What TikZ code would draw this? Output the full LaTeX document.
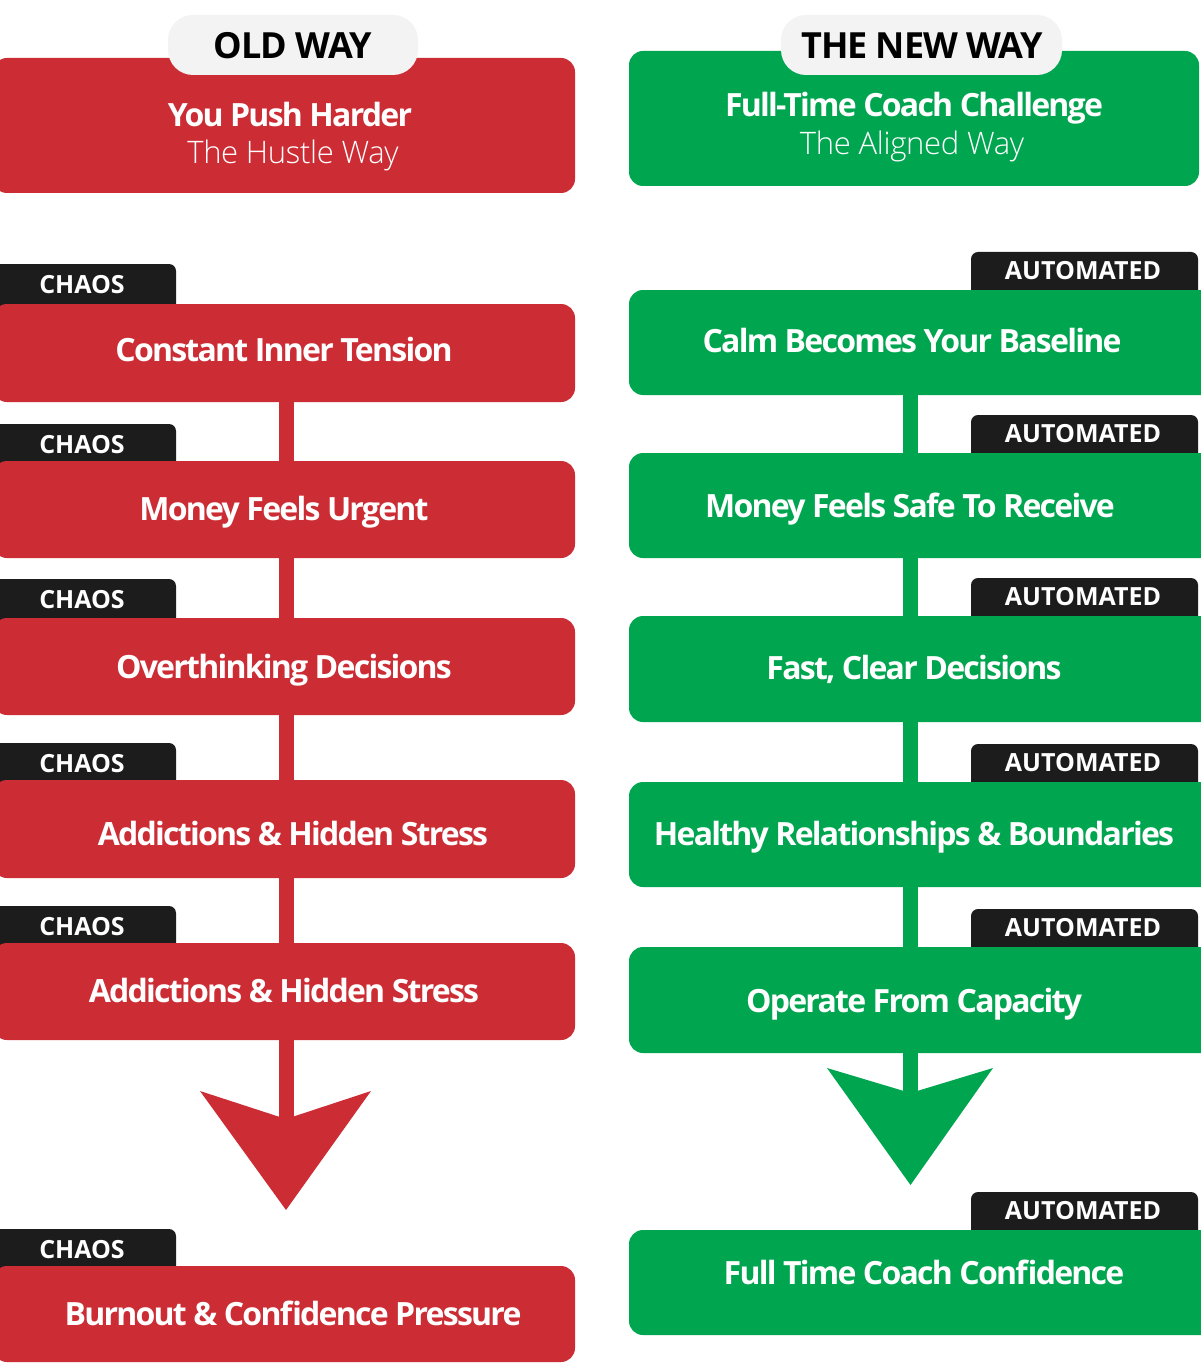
\documentclass[tikz,border=0pt]{standalone}
\usepackage{fontspec}
\setmainfont{Open Sans}
\newfontfamily\tightfont{Open Sans}[LetterSpace=-5.5]
\newfontfamily\tabfont{Open Sans}[LetterSpace=-3]
\IfFontExistsTF{Open Sans Light}{\newfontfamily\lightfont{Open Sans Light}[LetterSpace=-1]}{\newfontfamily\lightfont{Open Sans}[LetterSpace=-1]}
\definecolor{oldred}{RGB}{204,45,53}
\definecolor{newgreen}{RGB}{0,165,80}
\definecolor{tagblack}{RGB}{28,28,28}
\definecolor{tabgray}{RGB}{243,243,243}
\begin{document}
\begin{tikzpicture}[x=1pt,y=-1pt,
  boxbase/.style={inner sep=0pt, outer sep=0pt, rounded corners=14pt},
  redbox/.style={boxbase, fill=oldred},
  greenbox/.style={boxbase, fill=newgreen},
  tagshape/.style={fill=tagblack, rounded corners=7pt},
  tabbox/.style={inner sep=0pt, outer sep=0pt, fill=tabgray, rounded corners=25pt, minimum height=60pt},
  steptext/.style={text=white, inner sep=0pt, anchor=base, font=\fontsize{32}{38}\selectfont\tightfont\bfseries},
  subtext/.style={text=white, inner sep=0pt, anchor=base, font=\fontsize{31}{36}\selectfont\lightfont},
  tagtext/.style={text=white, inner sep=0pt, anchor=base, font=\fontsize{25}{30}\selectfont\bfseries},
  tabtext/.style={text=black, inner sep=0pt, anchor=base, font=\fontsize{36}{42}\selectfont\tabfont\bfseries},
  redstem/.style={draw=oldred, line width=15pt},
  greenstem/.style={draw=newgreen, line width=15pt}]
\useasboundingbox (0,0) rectangle (1200,1364);
\fill[white] (0,0) rectangle (1200,1364);

% ---------- column axes ----------
\coordinate (lx) at (286,0);
\coordinate (rx) at (910.5,0);

% ---------- tags (behind boxes) ----------
\foreach \t/\b [count=\i] in {264/304,424/461,579/618,743/780,906/943,1229/1266}{
  \fill[tagshape] (-8,\t) rectangle (176,\b+12);
  \node[tagtext] (ctag\i) at (82,\t+29) {CHAOS};
}
\foreach \t/\b [count=\i] in {252/290,415/453,578/616,744/782,909/947,1192/1230}{
  \fill[tagshape] (971,\t) rectangle (1198,\b+12);
  \node[tagtext] (atag\i) at (1083,\t+27.5) {AUTOMATED};
}

% ---------- headers ----------
\node[redbox, minimum width=582pt, minimum height=135pt] (lhead) at (284,125.5) {};
\node[greenbox, minimum width=570pt, minimum height=135pt] (rhead) at (914,118.5) {};
\node[tabbox, minimum width=250pt] (ltab) at (293,45) {};
\node[tabbox, minimum width=281pt] (rtab) at (921.5,45) {};
\node[tabtext] (ltabt) at (293,59) {OLD WAY};
\node[tabtext] (rtabt) at (922,59) {THE NEW WAY};
\node[steptext] (lh1) at (290,127) {You Push Harder};
\node[subtext] (lh2) at (293,164) {The Hustle Way};
\node[steptext] (rh1) at (914,117) {Full-Time Coach Challenge};
\node[subtext] (rh2) at (912,155) {The Aligned Way};

% ---------- left column boxes ----------
\node[redbox, minimum width=582pt, minimum height=98pt] (l1) at (284,353) {};
\node[redbox, minimum width=582pt, minimum height=97pt] (l2) at (284,509.5) {};
\node[redbox, minimum width=582pt, minimum height=97pt] (l3) at (284,666.5) {};
\node[redbox, minimum width=582pt, minimum height=98pt] (l4) at (284,829) {};
\node[redbox, minimum width=582pt, minimum height=97pt] (l5) at (284,991.5) {};
\node[redbox, minimum width=582pt, minimum height=96pt] (l6) at (284,1314) {};

\node[steptext] (l1t) at (284,361.5) {Constant Inner Tension};
\node[steptext] (l2t) at (284,520.5) {Money Feels Urgent};
\node[steptext] (l3t) at (284,678.5) {Overthinking Decisions};
\node[steptext] (l4t) at (293,845.5) {Addictions \& Hidden Stress};
\node[steptext] (l5t) at (284,1002.5) {Addictions \& Hidden Stress};
\node[steptext] (l6t) at (293,1325.5) {Burnout \& Confidence Pressure};

% ---------- right column boxes ----------
\node[greenbox, minimum width=591pt, minimum height=105pt] (r1) at (924.5,342.5) {};
\node[greenbox, minimum width=591pt, minimum height=105pt] (r2) at (924.5,505.5) {};
\node[greenbox, minimum width=591pt, minimum height=106pt] (r3) at (924.5,669) {};
\node[greenbox, minimum width=591pt, minimum height=105pt] (r4) at (924.5,834.5) {};
\node[greenbox, minimum width=591pt, minimum height=106pt] (r5) at (924.5,1000) {};
\node[greenbox, minimum width=591pt, minimum height=105pt] (r6) at (924.5,1282.5) {};

\node[steptext] (r1t) at (912,352.5) {Calm Becomes Your Baseline};
\node[steptext] (r2t) at (910,517.5) {Money Feels Safe To Receive};
\node[steptext] (r3t) at (914,679.5) {Fast, Clear Decisions};
\node[steptext] (r4t) at (914,845.5) {Healthy Relationships \& Boundaries};
\node[steptext] (r5t) at (914,1012.5) {Operate From Capacity};
\node[steptext] (r6t) at (924,1284.5) {Full Time Coach Confidence};

% ---------- connectors ----------
\foreach \a/\b in {l1/l2,l2/l3,l3/l4,l4/l5}{
  \draw[redstem] (\a.south -| lx) -- (\b.north -| lx);
}
\foreach \a/\b in {r1/r2,r2/r3,r3/r4,r4/r5}{
  \draw[greenstem] (\a.south -| rx) -- (\b.north -| rx);
}

% final arrows
\coordinate (lnotch) at (286,1119);
\coordinate (ltip) at (286,1210);
\draw[redstem] (l5.south -| lx) -- ([yshift=-4pt]lnotch);
\fill[oldred] (200,1091) -- (lnotch) -- (371,1091) -- (ltip) -- cycle;

\coordinate (rnotch) at (910.5,1093);
\coordinate (rtip) at (910.5,1185);
\draw[greenstem] (r5.south -| rx) -- ([yshift=-4pt]rnotch);
\fill[newgreen] (827,1068) -- (rnotch) -- (993,1068) -- (rtip) -- cycle;
\end{tikzpicture}
\end{document}
